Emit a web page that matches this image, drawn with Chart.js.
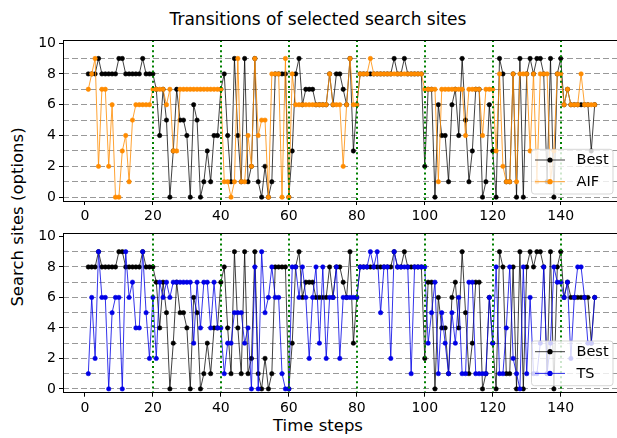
<!DOCTYPE html>
<html>
<head>
<meta charset="utf-8">
<script src="https://cdn.jsdelivr.net/npm/chart.js@4.4.0/dist/chart.umd.min.js"></script>
<style>
  html, body { margin: 0; padding: 0; background: #fff; overflow: hidden; width: 617px; height: 438px; }
  .txt { position: absolute; font-family: "DejaVu Sans", sans-serif; color: #000; white-space: nowrap; line-height: normal; }
  #title { left: 318px; top: 18.5px; transform: translate(-50%, -50%); font-size: 17px; }
  #ylab { left: 17px; top: 217px; transform: translate(-50%, -50%) rotate(-90deg); font-size: 16.5px; }
  #xlab { left: 318px; top: 425px; transform: translate(-50%, -50%); font-size: 16.5px; }
  canvas { position: absolute; left: 0; }
  #topPanel { top: 0; }
  #bottomPanel { top: 222px; }
</style>
</head>
<body>
<div class="txt" id="title">Transitions of selected search sites</div>
<div class="txt" id="ylab">Search sites (options)</div>
<div class="txt" id="xlab">Time steps</div>
<canvas id="topPanel" width="625" height="222"></canvas>
<canvas id="bottomPanel" width="625" height="216"></canvas>
<script>
// Time steps 1..150
const steps = Array.from({ length: 150 }, (_, i) => i + 1);

// Best search site at each step
const bestSites = [
  8,8,8,9,8,8,8,8,8,9,
  9,8,8,8,8,8,9,8,8,8,
  7,4,7,5,0,3,7,5,5,4,
  0,6,5,0,1,3,1,4,4,7,
  8,4,1,9,4,1,9,1,2,9,
  1,0,2,0,1,8,8,8,8,0,
  3,8,9,6,7,7,7,6,6,6,
  6,8,6,8,8,7,6,9,3,6,
  8,8,8,8,8,8,8,8,8,8,
  9,8,8,9,8,8,8,8,8,2,
  7,7,0,6,4,4,1,6,7,4,
  9,5,1,3,7,7,0,1,6,3,
  0,9,8,1,1,8,0,9,0,8,
  9,8,9,9,8,1,9,0,8,9,
  6,7,6,6,6,6,6,6,3,6
];

// Sites chosen by the AIF agent
const aifSites = [
  7,8,9,2,7,7,2,6,0,0,
  3,4,1,5,6,6,6,6,6,7,
  7,7,7,6,7,3,3,7,7,7,
  7,7,7,7,7,7,7,7,7,7,
  1,1,0,1,9,1,1,4,2,9,
  4,5,5,0,8,8,8,0,9,0,
  8,6,6,6,6,6,6,6,6,6,
  6,8,6,6,6,2,6,9,6,6,
  8,8,8,9,8,8,8,8,8,8,
  8,8,8,8,8,8,8,8,8,7,
  7,7,7,1,7,7,7,7,7,7,
  7,4,7,7,7,7,4,7,7,7,
  3,8,2,1,1,8,1,8,8,8,
  3,8,1,8,8,8,1,3,8,8,
  6,7,6,6,6,8,6,6,6,6
];

// Sites chosen by Thompson sampling
const tsSites = [
  1,6,2,9,6,6,0,5,6,6,
  0,9,6,7,4,4,9,5,2,6,
  2,7,6,7,6,7,7,7,7,7,
  7,3,7,4,7,7,4,7,4,4,
  1,3,3,5,5,5,3,4,0,8,
  0,9,5,6,8,6,6,1,0,0,
  8,8,6,8,6,2,6,8,3,8,
  2,6,6,8,2,6,6,6,6,6,
  8,8,8,9,8,9,5,8,8,2,
  9,8,8,8,8,1,8,8,8,8,
  3,5,7,1,5,3,1,5,3,6,
  1,1,7,7,1,1,1,1,6,3,
  8,1,1,4,8,2,1,0,8,1,
  6,1,1,3,8,1,3,8,7,7,
  6,7,2,6,8,8,6,3,3,6
];

const xTicks = [0, 20, 40, 60, 80, 100, 120, 140];
const yTicks = [0, 1, 2, 3, 4, 5, 6, 7, 8, 9, 10];
const switchSteps = [20, 40, 60, 80, 100, 120, 140];

const FONT = '"DejaVu Sans", sans-serif';

// Full box around the plotting area
const framePlugin = {
  id: 'frame',
  afterDatasetsDraw(chart) {
    const { ctx, chartArea: a } = chart;
    ctx.save();
    ctx.strokeStyle = '#000';
    ctx.lineWidth = 1;
    ctx.strokeRect(Math.round(a.left) + 0.5, Math.round(a.top) + 0.5,
                   Math.round(a.right - a.left), Math.round(a.bottom - a.top));
    ctx.restore();
  }
};

// Dotted green markers where the environment switches
const switchPlugin = {
  id: 'switchLines',
  afterDatasetsDraw(chart) {
    const { ctx, chartArea: a, scales: { x } } = chart;
    ctx.save();
    ctx.strokeStyle = '#008000';
    ctx.lineWidth = 2;
    ctx.setLineDash([2, 3.1]);
    for (const s of switchSteps) {
      const px = Math.round(x.getPixelForValue(s));
      ctx.beginPath();
      ctx.moveTo(px, a.top);
      ctx.lineTo(px, a.bottom);
      ctx.stroke();
    }
    ctx.restore();
  }
};

// Legend box in the lower right corner of the plotting area
const innerLegend = {
  id: 'innerLegend',
  afterDraw(chart) {
    const { ctx, chartArea: a } = chart;
    const w = 81.5, h = 44.7;
    const x0 = a.right - 7 - w, y0 = a.bottom - 7 - h;
    ctx.save();
    const r = 3;
    ctx.beginPath();
    ctx.moveTo(x0 + r, y0);
    ctx.lineTo(x0 + w - r, y0);
    ctx.arcTo(x0 + w, y0, x0 + w, y0 + r, r);
    ctx.lineTo(x0 + w, y0 + h - r);
    ctx.arcTo(x0 + w, y0 + h, x0 + w - r, y0 + h, r);
    ctx.lineTo(x0 + r, y0 + h);
    ctx.arcTo(x0, y0 + h, x0, y0 + h - r, r);
    ctx.lineTo(x0, y0 + r);
    ctx.arcTo(x0, y0, x0 + r, y0, r);
    ctx.closePath();
    ctx.fillStyle = 'rgba(255,255,255,0.8)';
    ctx.fill();
    ctx.strokeStyle = 'rgba(204,204,204,0.8)';
    ctx.lineWidth = 1;
    ctx.stroke();
    chart.data.datasets.forEach((ds, i) => {
      const cy = y0 + 10.7 + i * 21.7;
      ctx.strokeStyle = ds.borderColor;
      ctx.lineWidth = 1;
      ctx.setLineDash([]);
      ctx.beginPath();
      ctx.moveTo(x0 + 3.5, cy);
      ctx.lineTo(x0 + 33.5, cy);
      ctx.stroke();
      ctx.fillStyle = ds.pointBackgroundColor;
      ctx.beginPath();
      ctx.arc(x0 + 18.5, cy, 2.6, 0, Math.PI * 2);
      ctx.fill();
      ctx.fillStyle = '#000';
      ctx.font = '14.5px ' + FONT;
      ctx.textBaseline = 'middle';
      ctx.textAlign = 'left';
      ctx.fillText(ds.label, x0 + 45, cy + 0.5);
    });
    ctx.restore();
  }
};

function series(label, values, lineColor, markColor, order) {
  return {
    label,
    data: steps.map((s, i) => ({ x: s, y: values[i] })),
    borderColor: lineColor,
    backgroundColor: markColor,
    pointBackgroundColor: markColor,
    pointBorderColor: markColor,
    pointRadius: 2.2,
    pointBorderWidth: 0.6,
    borderWidth: 1,
    tension: 0,
    fill: false,
    order
  };
}

function makePanel(id, agentLabel, agentValues, agentLine, agentMark, padTop, xAxisHeight) {
  return new Chart(document.getElementById(id), {
    type: 'line',
    data: {
      datasets: [
        series('Best', bestSites, 'rgba(0,0,0,0.75)', '#000000', 2),
        series(agentLabel, agentValues, agentLine, agentMark, 1)
      ]
    },
    options: {
      responsive: false,
      animation: false,
      devicePixelRatio: 1,
      layout: { padding: { top: padTop, right: 5, left: 0, bottom: 0 } },
      plugins: { legend: { display: false }, tooltip: { enabled: false } },
      scales: {
        x: {
          type: 'linear',
          min: -6.45,
          max: 157.45,
          afterBuildTicks: s => { s.ticks = xTicks.map(v => ({ value: v })); },
          afterFit: s => { s.height = xAxisHeight; },
          grid: { display: true, drawOnChartArea: false, drawTicks: true, tickLength: 4, tickColor: '#000', tickWidth: 1 },
          border: { display: false },
          ticks: { padding: 3, color: '#000', font: { family: FONT, size: 14 }, maxRotation: 0, autoSkip: false }
        },
        y: {
          type: 'linear',
          min: -0.25,
          max: 10.2,
          afterBuildTicks: s => { s.ticks = yTicks.map(v => ({ value: v })); },
          afterFit: s => { s.width = 63; },
          grid: {
            color: c => (c.tick && c.tick.value <= 9) ? 'rgba(128,128,128,0.8)' : 'rgba(0,0,0,0)',
            lineWidth: 1,
            drawTicks: true,
            tickLength: 4,
            tickWidth: 1,
            tickColor: c => (c.tick && c.tick.value % 2 === 0) ? '#000' : 'rgba(0,0,0,0)',
            tickBorderDash: []
          },
          border: { display: false, dash: [6, 3] },
          ticks: {
            padding: 3, color: '#000', font: { family: FONT, size: 14 }, autoSkip: false,
            callback: v => (v % 2 === 0 ? String(v) : '')
          }
        }
      }
    },
    plugins: [switchPlugin, framePlugin, innerLegend]
  });
}

makePanel('topPanel', 'AIF', aifSites, 'rgba(255,140,0,0.8)', '#ff8c00', 40, 21);
makePanel('bottomPanel', 'TS', tsSites, 'rgba(0,0,230,0.8)', '#0000e6', 9.7, 45.3);
</script>
</body>
</html>
